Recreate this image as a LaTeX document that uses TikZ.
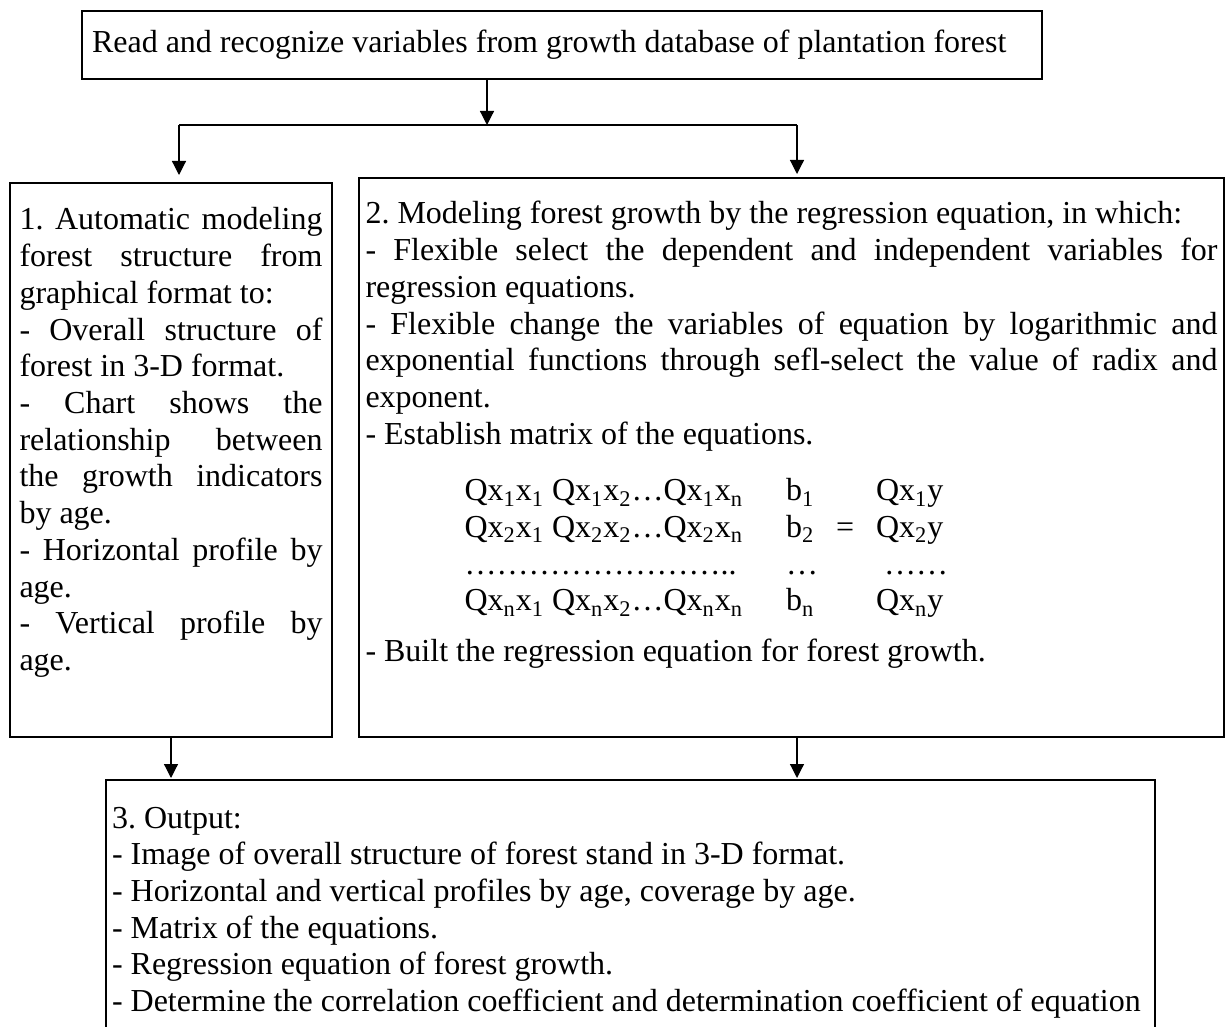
\documentclass[tikz,border=0pt]{standalone}
\usepackage{fontspec}
\setmainfont{Liberation Serif}
\usetikzlibrary{arrows.meta}
\hyphenpenalty=10000
\exhyphenpenalty=10000
\tolerance=10000
\frenchspacing
\tikzset{
  stage/.style={draw, line width=0.8pt, anchor=north west, outer sep=0pt, inner ysep=0pt,
    align=justify, font=\fontsize{16}{18.35}\selectfont},
  flow/.style={line width=0.6pt, -{Triangle[length=7pt,width=7pt]}}
}
\begin{document}
\begin{tikzpicture}[x=0.5pt, y=-0.5pt]
  \useasboundingbox (0,0) rectangle (1226,1027);
  \clip (0,0) rectangle (1226,1027);
  \node[stage, text width=470pt, inner xsep=5pt, text height=21pt, text depth=13pt] (read) at (82,11)
    {Read and recognize variables from growth database of plantation forest};
  \node[stage, text width=151.5pt, inner xsep=4.75pt, text height=23.5pt, text depth=253.5pt] (model) at (10,183)
    {1. Automatic modeling\linebreak forest structure from\linebreak graphical format to:\\
     - Overall structure of\linebreak forest in 3-D format.\\
     - Chart shows the\linebreak relationship between\linebreak the growth indicators\linebreak by age.\\
     - Horizontal profile by\linebreak age.\\
     - Vertical profile by\linebreak age.};
  \node[stage, text width=426pt, inner xsep=3.25pt, text height=23pt, text depth=256.5pt] (regress) at (359,178)
    {2. Modeling forest growth by the regression equation, in which:\\
     - Flexible select the dependent and independent variables for\linebreak regression equations.\\
     - Flexible change the variables of equation by logarithmic and\linebreak exponential functions through sefl-select the value of radix and\linebreak exponent.\\
     - Establish matrix of the equations.\\[10pt]
     \hspace*{49.5pt}\begin{tabular}[t]{@{}l@{\hspace{21.5pt}}l@{\hspace{9pt}}c@{\hspace{11pt}}l@{}}
       Qx\textsubscript{1}x\textsubscript{1} Qx\textsubscript{1}x\textsubscript{2}…Qx\textsubscript{1}x\textsubscript{n} & b\textsubscript{1} & & Qx\textsubscript{1}y\\
       Qx\textsubscript{2}x\textsubscript{1} Qx\textsubscript{2}x\textsubscript{2}…Qx\textsubscript{2}x\textsubscript{n} & b\textsubscript{2} & = & Qx\textsubscript{2}y\\
       …………………….. & … & & \hspace*{4pt}……\\
       Qx\textsubscript{n}x\textsubscript{1} Qx\textsubscript{n}x\textsubscript{2}…Qx\textsubscript{n}x\textsubscript{n} & b\textsubscript{n} & & Qx\textsubscript{n}y
     \end{tabular}\\[7.5pt]
     - Built the regression equation for forest growth.};
  \node[stage, text width=518.5pt, inner xsep=3pt, text height=24pt, text depth=200pt] (output) at (106,780)
    {3. Output:\\
     - Image of overall structure of forest stand in 3-D format.\\
     - Horizontal and vertical profiles by age, coverage by age.\\
     - Matrix of the equations.\\
     - Regression equation of forest growth.\\
     - Determine the correlation coefficient and determination coefficient of equation};
  \coordinate (split) at (487,125);
  \coordinate (forkL) at (179,125);
  \coordinate (forkR) at (797,125);
  \draw[flow] (read.south -| split) -- (split);
  \draw[line width=0.6pt] (forkL) -- (forkR);
  \draw[flow, shorten >=4pt] (forkL) -- (forkL |- model.north);
  \draw[flow, shorten >=2pt] (forkR) -- (forkR |- regress.north);
  \draw[flow, shorten >=1pt] (model.south) -- (model.south |- output.north);
  \draw[flow, shorten >=1pt] (regress.south -| forkR) -- (forkR |- output.north);
\end{tikzpicture}
\end{document}
